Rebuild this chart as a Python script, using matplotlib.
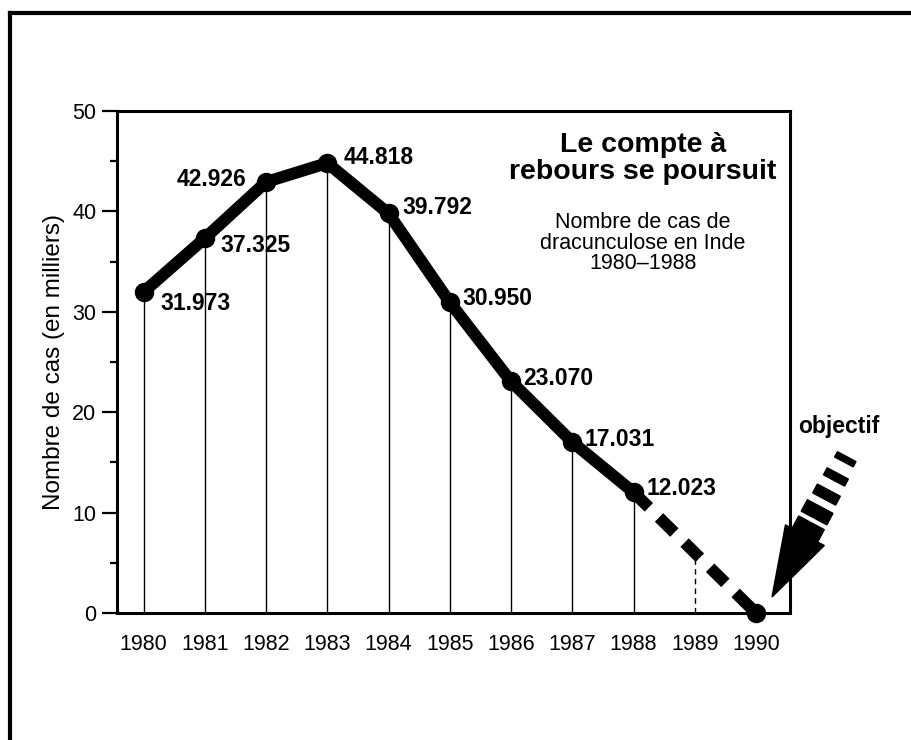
import numpy as np
import matplotlib
matplotlib.use('Agg')
import matplotlib.pyplot as plt
import matplotlib.transforms as mtransforms
from matplotlib.patches import Polygon
from matplotlib.lines import Line2D
from matplotlib.ticker import MultipleLocator

plt.rcParams['font.family'] = ['Liberation Sans', 'DejaVu Sans']

# data (thousands of cases)
years = [1980, 1981, 1982, 1983, 1984, 1985, 1986, 1987, 1988]
cases = [31.973, 37.325, 42.926, 44.818, 39.792, 30.950, 23.070, 17.031, 12.023]
labels = ['31.973', '37.325', '42.926', '44.818', '39.792', '30.950', '23.070', '17.031', '12.023']
goal_years = [1988, 1990]
goal_cases = [12.023, 0]
xtick_years = list(range(1980, 1991))

# label offsets in points (dx, dy, ha)
lab_pos = [(12, -8, 'left'), (11, -5, 'left'), (-14, 2, 'right'), (12, 4, 'left'),
           (10, 4, 'left'), (9, 3, 'left'), (9, 2, 'left'), (9, 2, 'left'), (9, 3, 'left')]

fig = plt.figure(figsize=(9.12, 7.4), dpi=100)
ax = fig.add_axes([117/912, 1 - 613/740, (790-117)/912, (613-111)/740])

ax.set_xlim(1979.567, 1990.555)
ax.set_ylim(0, 50)

# thin drop lines
ax.vlines(years, 0, cases, color='black', lw=1.0, zorder=1)
mid89 = np.interp(1989, goal_years, goal_cases)
ax.vlines([1989], 0, mid89, color='black', lw=1.0, linestyles=(0, (4, 3)), zorder=1)

# main series
ax.plot(years, cases, color='black', lw=8.6, marker='o', ms=13, zorder=3,
        solid_capstyle='round', solid_joinstyle='round')
ax.plot(goal_years, goal_cases, color='black', lw=8.6, ls=(0, (1.8, 1.2)), zorder=3)
ax.plot([goal_years[-1]], [goal_cases[-1]], color='black', marker='o', ms=13,
        ls='none', zorder=4, clip_on=False)

for x, y, t, (dx, dy, ha) in zip(years, cases, labels, lab_pos):
    ax.annotate(t, (x, y), xytext=(dx, dy), textcoords='offset points',
                ha=ha, va='center', fontsize=16.5, fontweight='bold', zorder=5)

# axes styling
for s in ax.spines.values():
    s.set_linewidth(2.2)
ax.set_xticks(xtick_years)
ax.tick_params(axis='x', length=0, pad=15, labelsize=15.5)
ax.yaxis.set_major_locator(MultipleLocator(10))
ax.yaxis.set_minor_locator(MultipleLocator(5))
ax.tick_params(axis='y', which='major', length=11, width=1.6, pad=4, labelsize=15.5)
ax.tick_params(axis='y', which='minor', length=5, width=1.6)
ax.set_ylabel('Nombre de cas (en milliers)', fontsize=17.5)
ax.yaxis.set_label_coords(-0.078, 0.5)

# titles
ax.text(0.7816, 0.905, 'Le compte à\nrebours se poursuit', transform=ax.transAxes,
        ha='center', va='center', fontsize=20.5, fontweight='bold', linespacing=1.02)
ax.text(0.7816, 0.737, 'Nombre de cas de\ndracunculose en Inde\n1980–1988',
        transform=ax.transAxes, ha='center', va='center', fontsize=15.5, linespacing=0.98)

# "objectif" arrow, built in pixel offsets from the 1990 point
p0 = ax.transData.transform((goal_years[-1], goal_cases[-1]))
tip = p0 + np.array([16, 16])
u = np.array([33, 62]) / np.hypot(33, 62)
v = np.array([u[1], -u[0]])
base = tip + u * 70
head = [tip, base + v * 22, base - v * 22]
ident = mtransforms.IdentityTransform()
fig.add_artist(Polygon(head, closed=True, color='black', transform=ident))

def band(c, hw, ht):
    return [c + v*hw + u*ht, c - v*hw + u*ht, c - v*hw - u*ht, c + v*hw - u*ht]

fig.add_artist(Polygon(band(base + u * 6, 14.5, 8), closed=True, color='black', transform=ident))
for d, hw, ht in [(26, 14.5, 6.5), (46, 13, 5), (66, 12, 4), (86, 10.5, 3)]:
    fig.add_artist(Polygon(band(base + u * d, hw, ht), closed=True, color='black',
                           transform=ident))

fig.text(839/912, 1 - 427/740, 'objectif', ha='center', va='center',
         fontsize=16.5, fontweight='bold')

# outer frame (left and top edges)
fig.add_artist(Line2D([10/912, 10/912], [0, 1 - 13/740], color='black', lw=3,
                      transform=fig.transFigure))
fig.add_artist(Line2D([10/912, 1], [1 - 13/740, 1 - 13/740], color='black', lw=3,
                      transform=fig.transFigure))

plt.savefig('out.png', dpi=100)
plt.close()
